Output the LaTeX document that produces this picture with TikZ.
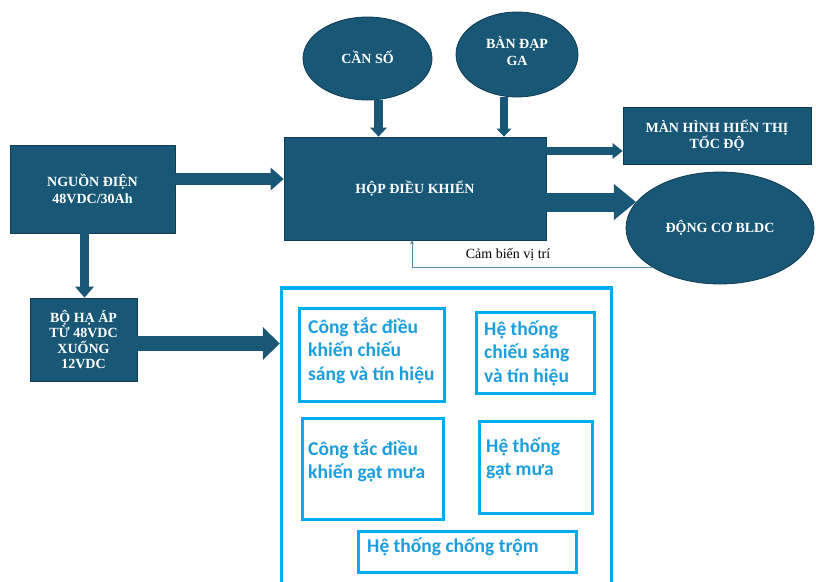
\documentclass[tikz,border=0pt]{standalone}
\usepackage{fontspec}
\setmainfont{Liberation Serif}
\newfontfamily\bluefont{Carlito}
\usetikzlibrary{arrows.meta,shapes.geometric,calc}
\definecolor{dk}{RGB}{24,87,118}
\definecolor{dkline}{RGB}{16,60,84}
\definecolor{lb}{RGB}{0,172,236}
\definecolor{lbt}{RGB}{26,158,222}
\definecolor{fbc}{RGB}{80,140,170}
\begin{document}
\begin{tikzpicture}[x=1pt,y=-1pt,
  dkbox/.style={rectangle, fill=dk, draw=dkline, line width=0.8pt, text=white,
    font=\bfseries\fontsize{14}{16.5}\selectfont, align=center, inner sep=0pt},
  dkell/.style={ellipse, fill=dk, draw=dkline, line width=0.8pt, text=white,
    font=\bfseries\fontsize{14}{16.5}\selectfont, align=center, inner sep=0pt},
  bluebox/.style={rectangle, draw=lb, line width=3.5pt, inner sep=0pt},
  bluetxt/.style={text=lbt, font=\bluefont\bfseries\fontsize{19.5}{23.5}\selectfont,
    inner sep=0pt, anchor=base west},
  blk/.style n args={3}{draw=dk, line width=#1,
    -{Triangle[width=#2, length=#3, line width=0pt]}},
  fb/.style={draw=fbc, line width=0.9pt, -{Stealth[length=4pt, width=4pt]}},
  fblabel/.style={font=\fontsize{14}{16}\selectfont, text=black, inner sep=0pt}
]
\useasboundingbox (0,0) rectangle (816,581);
\clip (0,0) rectangle (816,581);

% dark blocks
\node[dkbox, minimum width=165pt, minimum height=88pt] (pw) at (92.5,189) {NGUỒN ĐIỆN\\48VDC/30Ah};
\node[dkbox, minimum width=107pt, minimum height=83pt, font=\bfseries\fontsize{14}{15.3}\selectfont] (lv) at (83.5,339.5) {BỘ HẠ ÁP\\TỪ 48VDC\\XUỐNG\\12VDC};
\node[dkbox, minimum width=262pt, minimum height=103pt] (ctl) at (415,188.5) {HỘP ĐIỀU KHIỂN};
\node[dkbox, minimum width=188pt, minimum height=57pt] (mon) at (717,135.5) {MÀN HÌNH HIỂN THỊ\\TỐC ĐỘ};
\node[dkell, minimum width=129pt, minimum height=83pt] (cs) at (367.5,58.5) {\raisebox{3pt}{CẦN SỐ}};
\node[dkell, minimum width=122pt, minimum height=85pt] (ga) at (517,54.5) {\raisebox{7pt}{\shortstack{BÀN ĐẠP\\[2pt]GA}}};
\node[dkell, minimum width=188pt, minimum height=112pt] (mot) at (720,228) {ĐỘNG CƠ BLDC};

% block arrows
\draw[blk={12pt}{23pt}{13pt}] (pw.east |- 0,179) -- (ctl.west |- 0,179);
\draw[blk={9pt}{19pt}{11pt}] (pw.south -| 84.5,0) -- (lv.north -| 84.5,0);
\draw[blk={9pt}{17pt}{9pt}] (cs.south -| 378.5,0) -- (ctl.north -| 378.5,0);
\draw[blk={8pt}{15pt}{8pt}] (ga.south -| 504,0) -- (ctl.north -| 504,0);
\draw[blk={8pt}{16pt}{10pt}] (ctl.east |- 0,151) -- (mon.west |- 0,151);
\draw[blk={19pt}{36pt}{22pt}] (ctl.east |- 0,202) -- (mot.163 |- 0,202);

% feedback
\draw[fb] (mot.210) -| (ctl.south -| 412,0);
\node[fblabel] (fbl) at (508,255) {Cảm biến vị trí};

% light-blue group
\node[bluebox, minimum width=330pt, minimum height=312pt] (cont) at (446.5,444) {};
\draw[blk={15pt}{33pt}{17pt}] (lv.east |- 0,343.5) -- (cont.west |- 0,343.5);

\node[bluebox, minimum width=145pt, minimum height=93pt] (b1) at (372,355) {};
\node[bluebox, minimum width=118pt, minimum height=81pt] (b2) at (535.5,353) {};
\node[bluebox, minimum width=141pt, minimum height=101pt] (b3) at (373,469) {};
\node[bluebox, minimum width=113pt, minimum height=92pt] (b4) at (536,467.5) {};
\node[bluebox, minimum width=218pt, minimum height=41pt] (b5) at (467.5,552) {};

\node[bluetxt] (t1) at (308,333) {\parbox[t]{140pt}{\raggedright Công tắc điều\\khiến chiếu\\sáng và tín hiệu}};
\node[bluetxt] (t2) at (484,335) {\parbox[t]{110pt}{\raggedright Hệ thống\\chiếu sáng\\và tín hiệu}};
\node[bluetxt] (t3) at (308,455) {\parbox[t]{140pt}{\raggedright Công tắc điều\\khiến gạt mưa}};
\node[bluetxt] (t4) at (486,452) {\parbox[t]{110pt}{\raggedright Hệ thống\\gạt mưa}};
\node[bluetxt] (t5) at (367,552) {Hệ thống chống trộm};
\end{tikzpicture}
\end{document}
